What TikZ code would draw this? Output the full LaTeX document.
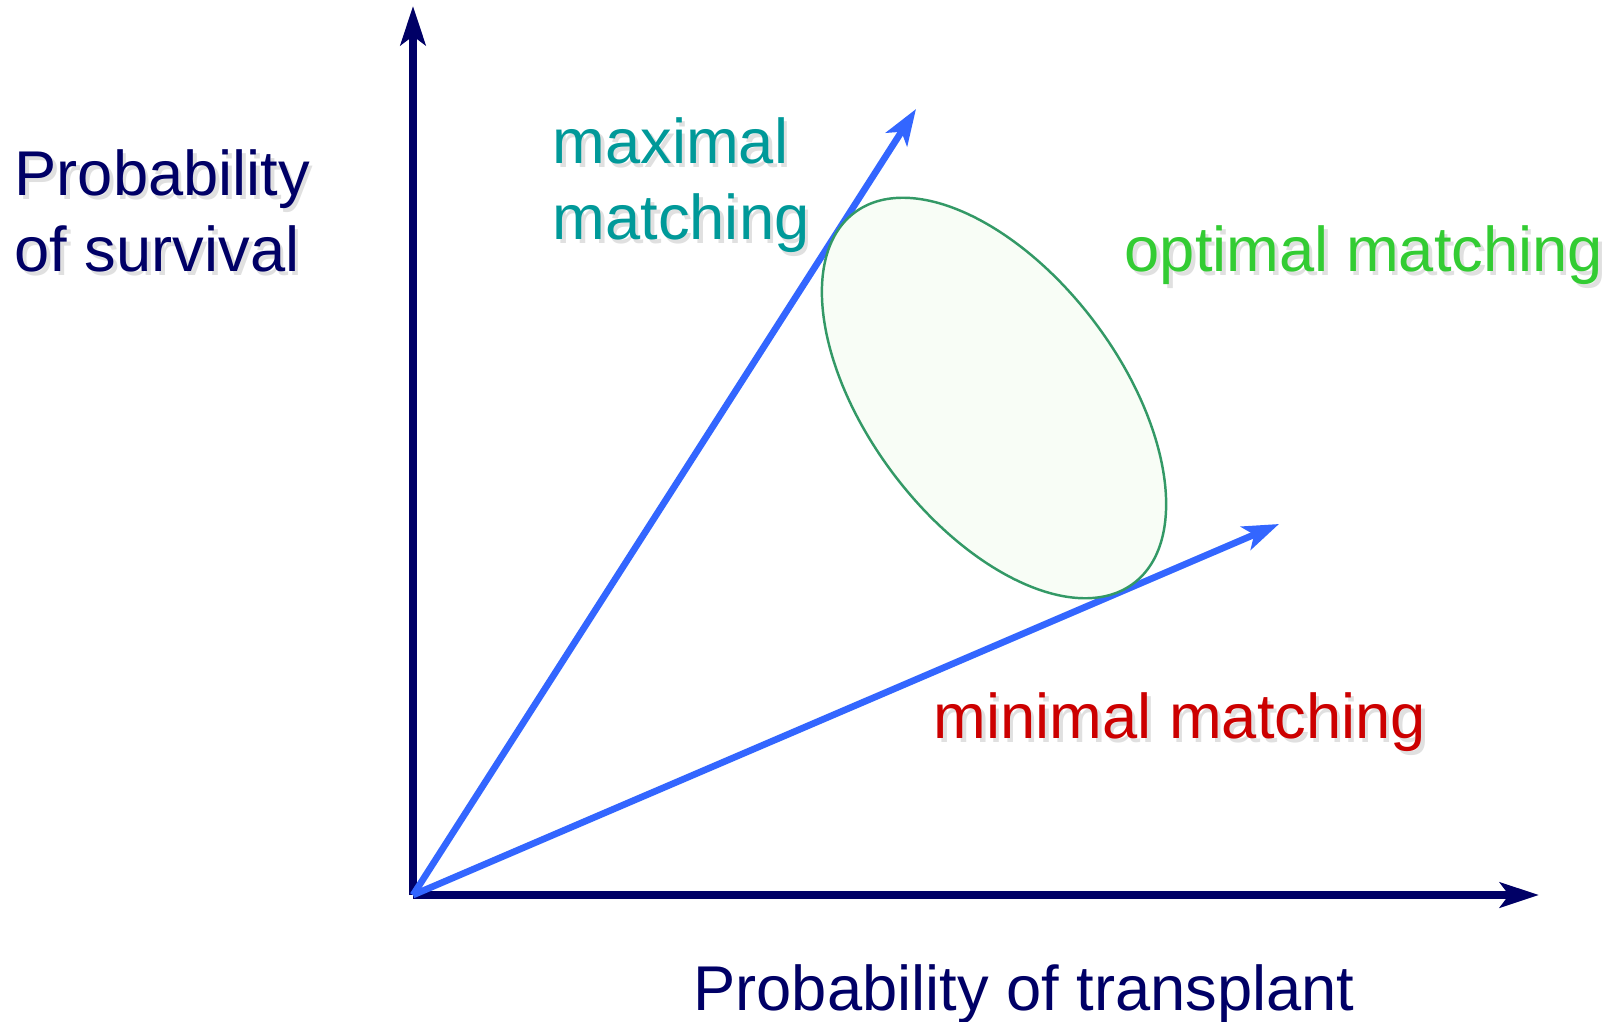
\documentclass[tikz,border=0pt]{standalone}
\usepackage{fontspec}
\setmainfont{Liberation Sans}
\usetikzlibrary{calc, positioning, arrows.meta, shapes.geometric}

\definecolor{axisblue}{HTML}{000066}
\definecolor{rayblue}{HTML}{3366FF}
\definecolor{maxteal}{HTML}{009999}
\definecolor{optgreen}{HTML}{33CC33}
\definecolor{minred}{HTML}{CC0000}
\definecolor{regionedge}{HTML}{339966}
\definecolor{regionfill}{HTML}{F8FDF6}

% text with a soft drop shadow
\newcommand{\shtext}[1]{\makebox[0pt][l]{\hspace{1pt}\raisebox{-1pt}{\color{black!12}#1}}#1}

\tikzset{
  axis/.style={draw=axisblue, line width=2.1pt,
    -{Stealth[length=3.9mm, width=2.5mm, inset=0.9mm]}},
  ray/.style={draw=rayblue, line width=1.9pt,
    -{Stealth[length=3.6mm, width=2.5mm, inset=0.9mm]}},
  lbl/.style={inner sep=0pt, align=left, anchor=west,
    font=\fontsize{18}{21.6}\selectfont}
}

\begin{document}
\begin{tikzpicture}
  \useasboundingbox (0,0) rectangle (16.12,10.21);

  % axes
  \coordinate (O) at (4.13,1.26);
  \coordinate (ytip) at (4.13,10.15);
  \coordinate (xtip) at (15.39,1.26);
  \draw[axis] (O) -- (ytip);
  \draw[axis] (O) -- (xtip);

  % matching directions
  \coordinate (maxtip) at (9.16,9.12);
  \coordinate (mintip) at (12.79,4.97);
  \draw[ray] (O) -- (maxtip);
  \draw[ray] (O) -- (mintip);

  % region of optimal matchings
  \node (region) [draw=regionedge, fill=regionfill, line width=0.7pt,
    ellipse, inner sep=0pt, minimum width=4.64cm, minimum height=2.52cm,
    rotate=-53] at (9.94,6.23) {};

  % labels
  \node (ylabel) [lbl, text=axisblue] at (0.14,8.08)
    {\shtext{Probability}\\\shtext{of survival}};
  \node (xlabel) [lbl, anchor=center, text=axisblue] at (10.24,0.27)
    {Probability of transplant};
  \node (maxlabel) [lbl, text=maxteal] at (5.52,8.34)
    {\shtext{maximal}\\\shtext{matching}};
  \node (optlabel) [lbl, text=optgreen] at (11.24,7.64)
    {\shtext{optimal matching}};
  \node (minlabel) [lbl, text=minred] at (9.33,2.97)
    {\shtext{minimal matching}};
\end{tikzpicture}
\end{document}
